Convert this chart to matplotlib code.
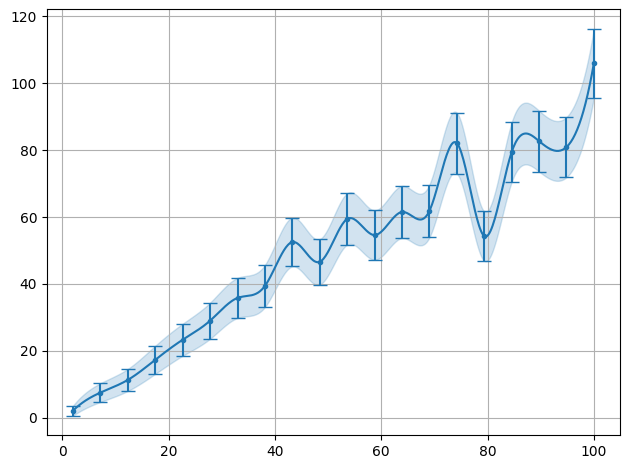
"""
smooth curve with error bars and shaded band
"""

import matplotlib

matplotlib.use("Agg")
import matplotlib.pyplot as plt
import numpy as np

# values
x = [2.0, 7.16, 12.32, 17.47, 22.63, 27.79, 32.95, 38.11, 43.26, 48.42,
     53.58, 58.74, 63.89, 69.05, 74.21, 79.37, 84.53, 89.68, 94.84, 100.0]
y = [2.1, 7.5, 11.3, 17.3, 23.3, 29.0, 35.8, 39.4, 52.5, 46.6,
     59.4, 54.6, 61.5, 61.8, 82.1, 54.3, 79.4, 82.7, 80.9, 106.0]
yerr = [1.5, 2.8, 3.3, 4.2, 4.8, 5.4, 6.0, 6.3, 7.3, 6.8,
        7.7, 7.4, 7.8, 7.9, 9.1, 7.4, 8.9, 9.1, 9.0, 10.3]


def spline(xs, ys, xnew):
    # cubic spline, not-a-knot ends
    xs = np.asarray(xs, float)
    ys = np.asarray(ys, float)
    n = len(xs)
    h = np.diff(xs)
    A = np.zeros((n, n))
    b = np.zeros(n)
    for i in range(1, n - 1):
        A[i, i - 1] = h[i - 1]
        A[i, i] = 2 * (h[i - 1] + h[i])
        A[i, i + 1] = h[i]
        b[i] = 6 * ((ys[i + 1] - ys[i]) / h[i] - (ys[i] - ys[i - 1]) / h[i - 1])
    A[0, 0] = -1 / h[0]
    A[0, 1] = 1 / h[0] + 1 / h[1]
    A[0, 2] = -1 / h[1]
    A[-1, -3] = -1 / h[-2]
    A[-1, -2] = 1 / h[-2] + 1 / h[-1]
    A[-1, -1] = -1 / h[-1]
    M = np.linalg.solve(A, b)
    idx = np.clip(np.searchsorted(xs, xnew) - 1, 0, n - 2)
    x0, x1 = xs[idx], xs[idx + 1]
    hh = x1 - x0
    a = (x1 - xnew) / hh
    c = (xnew - x0) / hh
    return (a * ys[idx] + c * ys[idx + 1]
            + ((a ** 3 - a) * M[idx] + (c ** 3 - c) * M[idx + 1]) * hh ** 2 / 6)


xa = np.array(x)
ya = np.array(y)
ea = np.array(yerr)
xs = np.linspace(xa.min(), xa.max(), 500)

fig = plt.figure(figsize=(6.3, 4.69), dpi=100)
plt.subplots_adjust(left=0.0746, right=0.984, top=0.980, bottom=0.0725)
plt.plot(xs, spline(xa, ya, xs), color="C0")
plt.fill_between(xs, spline(xa, ya - ea, xs), spline(xa, ya + ea, xs),
                 color="C0", alpha=0.2)
plt.errorbar(xa, ya, yerr=ea, fmt=".", color="C0", capsize=5)
plt.grid(True)
plt.savefig("out.png")
